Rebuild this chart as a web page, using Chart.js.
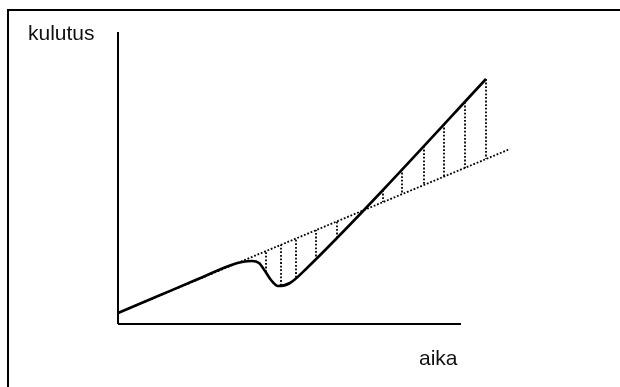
<!DOCTYPE html>
<html>
<head>
<meta charset="utf-8">
<script src="https://cdn.jsdelivr.net/npm/chart.js@4"></script>
<style>
  html, body { margin: 0; padding: 0; background: #fff; }
  #wrap { position: relative; width: 620px; height: 387px; }
</style>
</head>
<body>
<div id="wrap"><canvas id="c" width="620" height="387"></canvas></div>
<script>
// Labels
const yLabel = "kulutus";
const xLabel = "aika";

// Solid consumption curve
const curveX = [0, 40, 80, 112, 124, 134, 141, 147, 153, 160, 172, 190, 219, 265, 368];
const curveY = [11, 28, 45, 58.5, 62, 63, 61, 53, 44, 38, 41, 57, 86, 134, 245];

// Dotted trend line
const trendX = [0, 392];
const trendY = [11, 175];

// Vertical dotted drop lines (between curve and trend)
const dropX      = [148, 163, 178, 198, 219, 265, 284, 306, 326, 347, 368];
const dropCurveY = [52, 38.5, 46.5, 64, 86, 134, 155, 178, 200, 222, 245];
const dropTrendY = [73, 79, 86, 94, 103, 122, 130, 139, 147, 156, 165];

// Axis extents
const xAxisEnd = 343;
const yAxisEnd = 292;

const pts = (xs, ys) => xs.map((x, i) => ({ x: x, y: ys[i] }));
const dropData = [];
dropX.forEach((x, i) => {
  dropData.push({ x: x, y: dropCurveY[i] });
  dropData.push({ x: x, y: dropTrendY[i] });
  dropData.push({ x: x, y: null });
});

const labelsPlugin = {
  id: 'labels',
  afterDraw(chart) {
    const ctx = chart.ctx;
    ctx.save();
    ctx.fillStyle = '#000';
    ctx.fillRect(7, 9, 613, 2);
    ctx.fillRect(7, 9, 2, 378);
    ctx.fillStyle = '#111';
    ctx.font = '21px "Liberation Sans", Arial, sans-serif';
    ctx.textBaseline = 'alphabetic';
    ctx.fillText(yLabel, 28, 40);
    ctx.fillText(xLabel, 419, 365);
    ctx.restore();
  }
};

new Chart(document.getElementById('c'), {
  type: 'line',
  data: {
    datasets: [
      { data: pts([0, 0], [0, yAxisEnd]), borderColor: '#000', borderWidth: 2, pointRadius: 0, clip: false },
      { data: pts([0, xAxisEnd], [0, 0]), borderColor: '#000', borderWidth: 2, pointRadius: 0, clip: false },
      { data: pts(trendX, trendY), borderColor: '#000', borderWidth: 1.8, borderDash: [1.8, 1.8], pointRadius: 0, clip: false },
      { data: dropData, borderColor: '#000', borderWidth: 1.8, borderDash: [1.8, 1.8], pointRadius: 0, spanGaps: false, clip: false },
      { data: pts(curveX, curveY), borderColor: '#000', borderWidth: 2.6, pointRadius: 0, cubicInterpolationMode: 'monotone', clip: false }
    ]
  },
  options: {
    responsive: false,
    animation: false,
    events: [],
    layout: { padding: { left: 118, right: 100, top: 30, bottom: 63 } },
    plugins: { legend: { display: false }, tooltip: { enabled: false }, title: { display: false } },
    scales: {
      x: { type: 'linear', min: 0, max: 402, display: false },
      y: { type: 'linear', min: 0, max: 294, display: false }
    }
  },
  plugins: [labelsPlugin]
});
</script>
</body>
</html>
